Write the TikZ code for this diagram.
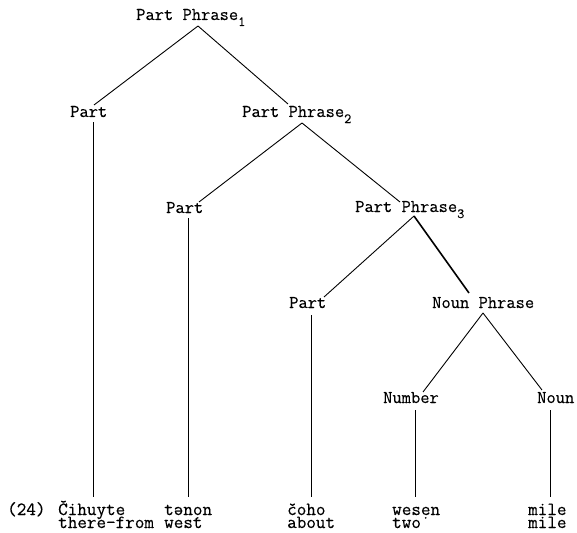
\documentclass[tikz,border=0pt]{standalone}
\usepackage{fontspec}
\newfontfamily\tw[FakeBold=0.3]{Latin Modern Mono}
\newcommand\lvl[1]{\raisebox{-6pt}{\fontsize{14}{14}\selectfont #1}}
\begin{document}
\begin{tikzpicture}[x=1pt,y=-1pt,
  lbl/.style={font=\tw\fontsize{18}{18}\selectfont, inner sep=0pt, anchor=base west},
  word/.style={font=\tw\fontsize{18.6}{18.6}\selectfont, inner sep=0pt, anchor=base west},
  branch/.style={line width=0.9pt},
  heavy/.style={line width=1.6pt},
  stem/.style={line width=0.9pt}]
\useasboundingbox (0,0) rectangle (577,532);

% category labels
\node[lbl] (pp1)   at (136,20)  {Part Phrase\lvl{1}};
\node[lbl] (parta) at (70,117)  {Part};
\node[lbl] (pp2)   at (242,117) {Part Phrase\lvl{2}};
\node[lbl] (partb) at (166,213) {Part};
\node[lbl] (pp3)   at (355,212) {Part Phrase\lvl{3}};
\node[lbl] (partc) at (289,308) {Part};
\node[lbl] (np)    at (432,308) {Noun Phrase};
\node[lbl] (num)   at (383,403) {Number};
\node[lbl] (noun)  at (537,403) {Noun};

% words and glosses
\node[word] (ex) at (7,515)   {(24)};
\node[word] (w1) at (58,515)  {Čihuyte};
\node[word] (g1) at (58,528)  {there-from};
\node[word] (w2) at (164,515) {tənọn};
\node[word] (g2) at (164,528) {west};
\node[word] (w3) at (287,515) {čoho};
\node[word] (g3) at (287,528) {about};
\node[word] (w4) at (392,515) {wesẹn};
\node[word] (g4) at (392,528) {two};
\node[word] (w5) at (528,515) {mile};
\node[word] (g5) at (528,528) {mile};

% attachment points
\coordinate (pp1-foot)   at (198,26);
\coordinate (parta-head) at (94,105);
\coordinate (pp2-head)   at (288,104);
\coordinate (pp2-foot)   at (302,123);
\coordinate (partb-head) at (199,202);
\coordinate (pp3-head)   at (400,202);
\coordinate (pp3-foot)   at (414,216);
\coordinate (partc-head) at (324,297);
\coordinate (np-head)    at (469,293);
\coordinate (np-foot)    at (483,313);
\coordinate (num-head)   at (423,392);
\coordinate (noun-head)  at (542,390);

\coordinate (parta-foot) at (93,122);
\coordinate (partb-foot) at (188,218);
\coordinate (partc-foot) at (311,315);
\coordinate (num-foot)   at (415,410);
\coordinate (noun-foot)  at (550,410);
\coordinate (w1-top) at (93,497);
\coordinate (w2-top) at (188,497);
\coordinate (w3-top) at (311,497);
\coordinate (w4-top) at (415,497);
\coordinate (w5-top) at (550,497);

% branches
\draw[branch] (pp1-foot) -- (parta-head);
\draw[branch] (pp1-foot) -- (pp2-head);
\draw[branch] (pp2-foot) -- (partb-head);
\draw[branch] (pp2-foot) -- (pp3-head);
\draw[branch] (pp3-foot) -- (partc-head);
\draw[heavy]  (pp3-foot) -- (np-head);
\draw[branch] (np-foot) -- (num-head);
\draw[branch] (np-foot) -- (noun-head);

% stems down to the words
\draw[stem] (parta-foot) -- (w1-top);
\draw[stem] (partb-foot) -- (w2-top);
\draw[stem] (partc-foot) -- (w3-top);
\draw[stem] (num-foot) -- (w4-top);
\draw[stem] (noun-foot) -- (w5-top);
\end{tikzpicture}
\end{document}
